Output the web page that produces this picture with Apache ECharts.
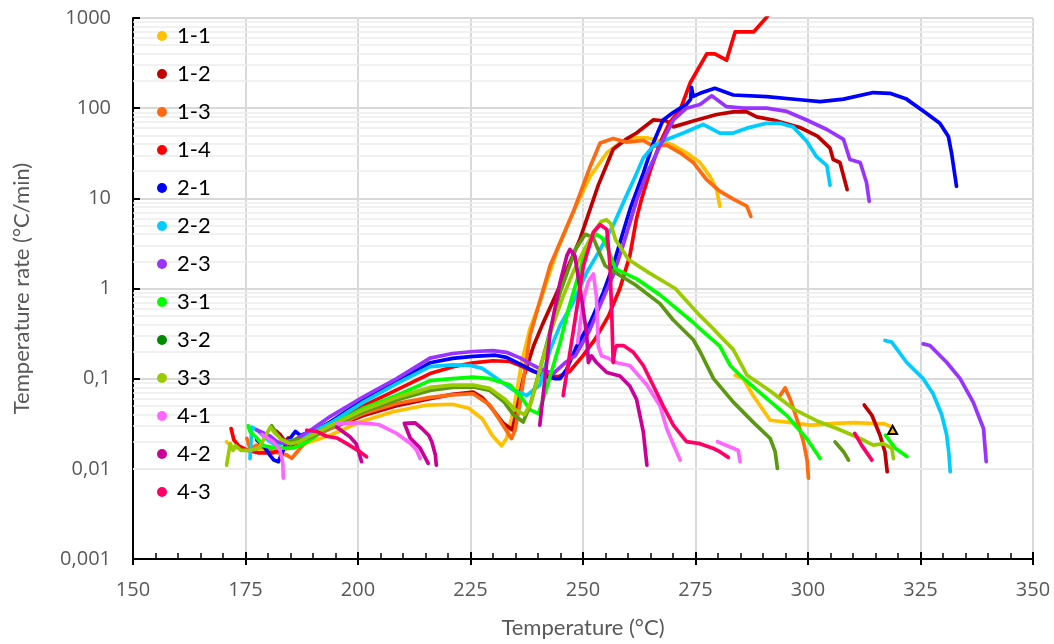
<!DOCTYPE html>
<html><head><meta charset="utf-8">
<script src="https://cdn.jsdelivr.net/npm/echarts@6/dist/echarts.min.js"></script>
<style>html,body{margin:0;padding:0;background:#fff}#c{width:1054px;height:644px}</style>
</head><body><div id="c"></div>
<script>
// ---- data (temperature °C, rate °C/min); each series = list of segments ----
const seriesNames = ['1-1','1-2','1-3','1-4','2-1','2-2','2-3','3-1','3-2','3-3','4-1','4-2','4-3'];
const lineColors  = ['#FFC000','#C00000','#FF6A10','#FF0000','#0000FF','#00CCFF','#9933FF','#00FF00','#5B9A10','#99CC00','#FF66FF','#CC0099','#FF0066'];
const legendColors= ['#FFC000','#C00000','#FF6A10','#FF0000','#0000FF','#00CCFF','#9933FF','#00FF00','#008A00','#99CC00','#FF66FF','#CC0099','#FF0066'];
const xTicks = [150,175,200,225,250,275,300,325,350];
const yTicks = [0.001,0.01,0.1,1,10,100,1000];

const s1_1 = [
 [[170.8,0.020],[171.9,0.0176],[173.8,0.0168],[176.7,0.0161],[180.4,0.0156],[184,0.0165],[187.1,0.0183],[193.8,0.0236],[200.4,0.033],[207.8,0.043],[215.3,0.051],[221,0.052],[224.6,0.047],[227.6,0.036],[229.8,0.0236],[231.9,0.018],[233,0.0217],[234.5,0.043],[236.4,0.153],[238.2,0.356],[240.4,0.7],[244.2,2.6],[247.8,7.0],[251.6,17.5],[255.3,32],[258.2,41],[261.1,47],[264.2,47],[267.1,43],[270,39],[273,32],[276,25],[278.2,17.5],[279.7,12.5],[280.4,8.2]],
 [[283.8,0.109],[285.6,0.1],[287.8,0.065],[291.6,0.0346],[295.3,0.033],[300.4,0.0305],[302.7,0.031],[306,0.032],[310.3,0.0326],[314,0.032],[317,0.0315],[318.5,0.0293]]
];
const s1_1Marker = [318.8, 0.027];
const s1_2 = [
 [[181.2,0.027],[181.9,0.026],[182.7,0.024],[183.8,0.020],[184.5,0.022],[185.3,0.020],[187.5,0.021],[190,0.023],[193.8,0.028],[201.2,0.039],[208.6,0.050],[216,0.060],[221,0.067],[225.6,0.071],[227.5,0.062],[229.3,0.05],[232.3,0.032],[234.3,0.027],[235.2,0.043],[236.7,0.1],[239,0.23],[241,0.4],[244.2,0.9],[249.3,3.5],[253.4,14],[256.7,35],[259.5,45],[261.9,53],[265.6,74],[268.6,72],[270.1,62],[274.5,72],[279.7,85],[283.4,91],[286.4,91],[288.6,80],[292.3,74],[298.2,61],[302.1,49],[304.9,36],[305.6,27],[307.1,25],[308.7,12.5]],
 [[312.5,0.051],[314.2,0.0393],[316,0.0236],[317.1,0.0155],[317.6,0.0093]]
];
const s1_3 = [
 [[175.3,0.0217],[176.0,0.0168],[177.5,0.0183],[180.4,0.016],[184.2,0.0142],[185.3,0.0131],[187.1,0.0168],[189.3,0.0217],[193.8,0.028],[201.2,0.041],[208.6,0.053],[216,0.062],[221,0.066],[225.6,0.068],[229.3,0.051],[232.3,0.030],[234.1,0.0217],[234.9,0.027],[236,0.053],[238.2,0.3],[242.7,1.8],[247.8,7.0],[251.6,22.6],[253.8,41],[256.7,46],[259.7,42],[263.4,44],[265.6,38],[268.6,39],[271.6,32],[274.5,25],[277.5,16],[280.4,12],[283.4,9.8],[286.4,8.2],[287.3,6.3]],
 [[293.8,0.065],[294.9,0.079],[296,0.06],[297.5,0.036],[299,0.0199],[299.8,0.0125],[300.1,0.0079]]
];
const s1_4 = [
 [[171.8,0.028],[172.4,0.021],[173.5,0.018],[175.5,0.016],[178,0.015],[181,0.015],[184,0.017],[187,0.02],[190,0.024],[193.8,0.029],[201.2,0.050],[208.6,0.075],[216,0.114],[221,0.135],[225.6,0.15],[230,0.158],[233.8,0.155],[236,0.14],[239,0.12],[242,0.11],[244.5,0.105],[247,0.12],[250,0.18],[252.8,0.28],[255.7,0.5],[258.2,1.0],[260.4,2.3],[261.9,6],[263,9.8],[264.9,20],[267.1,41],[269.3,70],[271.6,96],[273.8,190],[277.5,400],[279.3,400],[281.9,340],[283.8,700],[287.9,700],[290.9,1030],[291.5,1200]]
];
const s2_1 = [
 [[177.5,0.021],[179,0.018],[180.5,0.014],[181.3,0.0125],[182.3,0.012],[184,0.019],[186.1,0.026],[187.1,0.0236],[190,0.026],[193.8,0.033],[201.2,0.058],[208.6,0.092],[216,0.15],[221,0.168],[225.6,0.177],[230.5,0.182],[233,0.172],[236,0.145],[238.5,0.125],[241,0.108],[243.8,0.1],[244.9,0.1],[246.4,0.128],[248.6,0.23],[251.6,0.42],[254.5,0.9],[256.7,1.8],[258.9,4.2],[260.6,8],[263.4,19],[265.6,41],[267.8,74],[270.1,90],[273,110],[273.9,125],[274.1,170],[274.5,135],[276,146],[279.3,166],[283.4,140],[290.8,134],[298.2,124],[302.7,118],[307.9,126],[314.5,149],[318.2,146],[321.9,126],[326.3,88],[329.3,68],[331.2,48.5],[331.9,31.8],[333,13.6]]
];
const s2_2 = [
 [[176,0.013],[176.4,0.029],[177.5,0.027],[179,0.023],[180.5,0.02],[182,0.018],[184,0.02],[186,0.021],[190,0.026],[193.8,0.032],[201.2,0.055],[208.6,0.088],[216,0.136],[221,0.142],[225,0.14],[227.6,0.13],[229.5,0.112],[232.2,0.09],[234.5,0.075],[237.5,0.065],[240.4,0.085],[242.7,0.21],[244.9,0.39],[247.8,0.7],[250.8,1.5],[253.8,2.7],[256.7,5],[259.3,9.8],[261.5,17],[263.4,28],[265.6,38],[268.6,45],[272.3,53],[276.7,66],[280.4,53],[283.4,53],[286.4,60],[290.8,68],[293.8,68],[296.7,62],[299.7,43],[301.9,29],[304.2,23],[304.9,14]],
 [[317.1,0.265],[318.6,0.254],[321.9,0.152],[325.6,0.1],[327.8,0.068],[329.7,0.04],[330.8,0.024],[331.3,0.015],[331.6,0.0093]]
];
const s2_3 = [
 [[177.5,0.027],[179,0.025],[180.5,0.023],[182,0.02],[184,0.019],[186,0.021],[190,0.028],[193.8,0.038],[201.2,0.063],[208.6,0.1],[216,0.169],[221,0.19],[225.6,0.2],[230,0.205],[233,0.196],[236,0.17],[239,0.14],[241.5,0.122],[243.5,0.115],[246,0.15],[248.3,0.18],[251.3,0.33],[253.8,0.65],[256.7,1.4],[258.9,3],[262,9.8],[264,18],[267.1,38],[270.1,74],[273,100],[276,110],[278.6,137],[281.9,104],[285.6,100],[290.8,100],[295.3,92],[299.7,74],[304.2,58],[307.9,45],[309.3,27],[311.6,25],[313,15],[313.6,9.3]],
 [[325.6,0.243],[327.1,0.233],[330.8,0.152],[333.8,0.1],[336.7,0.055],[339,0.028],[339.6,0.012]]
];
const s3_1 = [
 [[175.6,0.03],[176,0.026],[177.5,0.022],[179,0.018],[182,0.017],[185.6,0.017],[188,0.019],[190,0.022],[193.8,0.03],[201.2,0.047],[208.6,0.065],[216,0.095],[221,0.1],[225.6,0.104],[229.3,0.1],[233.8,0.085],[236.5,0.06],[238.3,0.045],[240.1,0.041],[241.2,0.06],[243,0.12],[244.9,0.25],[246.8,0.6],[248.6,1.2],[250.5,2.5],[252,3.6],[253,4.0],[254.3,3.6],[255.5,2.8],[257.2,1.65],[262,1.27],[267.1,0.85],[274.5,0.42],[276,0.356],[280.4,0.23],[282.7,0.14],[284.9,0.109],[290.1,0.065],[295.3,0.039],[299.7,0.0217],[302.7,0.013]],
 [[317.2,0.0236],[319.4,0.0169],[322,0.0137]]
];
const s3_2 = [
 [[180.8,0.03],[181.8,0.025],[183,0.021],[184.5,0.02],[186,0.021],[188,0.021],[190,0.023],[193.8,0.029],[201.2,0.043],[208.6,0.058],[216,0.074],[221,0.08],[225.6,0.081],[229.3,0.074],[232.5,0.055],[234.5,0.04],[236.7,0.033],[238.2,0.05],[241.6,0.21],[244.9,0.9],[248.3,2.7],[250.5,4.0],[252.2,3.7],[254.9,1.8],[257.2,1.5],[261.6,1.1],[267.1,0.68],[270,0.45],[274.5,0.27],[276,0.2],[279,0.1],[283.4,0.055],[287.8,0.033],[291.6,0.0217],[292.7,0.0155],[293.2,0.0101]],
 [[306,0.0199],[307.9,0.0155],[309,0.0125]]
];
const s3_3 = [
 [[170.8,0.011],[171.6,0.019],[172.2,0.016],[172.8,0.018],[174,0.016],[176,0.016],[178,0.017],[180.5,0.029],[181.5,0.025],[183,0.021],[185,0.019],[187,0.02],[190,0.024],[193.8,0.03],[201.2,0.045],[208.6,0.062],[216,0.08],[221,0.085],[225.6,0.085],[229.3,0.078],[232.5,0.06],[235,0.045],[237,0.04],[238.5,0.055],[240.5,0.13],[243,0.35],[245.5,0.8],[248,1.6],[250.5,2.8],[252.5,4.3],[254,5.5],[255.2,5.8],[256.2,5.2],[257.2,3.5],[260.1,2.1],[264.6,1.5],[270.5,1.0],[276,0.5],[279,0.356],[280.4,0.3],[283.4,0.21],[286.4,0.11],[291.6,0.073],[296.8,0.046],[302,0.034],[306.4,0.028],[311.6,0.0217],[314.5,0.0183],[316.7,0.019],[318.6,0.017],[319,0.013]]
];
const s4_1 = [
 [[178.7,0.024],[181.1,0.02],[182.7,0.016],[183.3,0.0115],[183.4,0.0079]],
 [[195.3,0.0315],[200.1,0.0325],[204.6,0.031],[208.6,0.0247],[211.6,0.0192],[213,0.0162],[213.8,0.013]],
 [[248.8,0.25],[250.1,0.76],[251.2,1.2],[252.3,1.45],[253,0.8],[253.4,0.23],[254.1,0.18],[255.5,0.17],[257.5,0.15],[260.4,0.14],[264.2,0.085],[267.1,0.05],[268.6,0.028],[270.1,0.0185],[271.6,0.0125]],
 [[279.9,0.02],[283.4,0.0169],[284.5,0.016],[284.9,0.012]]
];
const s4_2 = [
 [[195.3,0.029],[198.2,0.0227],[199.6,0.019],[200.8,0.012]],
 [[215.6,0.0115],[213.8,0.017],[211.6,0.022],[210.3,0.032],[212.7,0.0324],[214.2,0.028],[215.7,0.0236],[216.4,0.02],[217.2,0.0142],[217.4,0.011]],
 [[240.4,0.0305],[242.7,0.327],[244.9,1.17],[246.4,2.3],[247.1,2.72],[248.2,2.3],[249.7,0.76],[250.8,0.32],[251.2,0.151],[251.9,0.179],[253,0.151],[255.3,0.117],[258.2,0.107],[260.4,0.083],[261.9,0.059],[263.4,0.0257],[264.2,0.011]]
];
const s4_3 = [
 [[188.6,0.0268],[190.8,0.026],[193,0.023],[195.3,0.022],[197.5,0.019],[200.4,0.0155],[201.9,0.0136]],
 [[245.6,0.065],[247.8,0.327],[250.1,1.79],[252.3,4.2],[253.8,5.1],[255.3,4.5],[256,1.79],[256.4,0.5],[256.7,0.151],[257.1,0.212],[257.5,0.233],[259,0.233],[261.2,0.196],[263.4,0.14],[265.6,0.084],[267.8,0.05],[270.1,0.0304],[273,0.02],[276,0.019],[279,0.0168],[280.4,0.0155],[282.3,0.0134]],
 [[310.4,0.0247],[311.9,0.0183],[314.2,0.0125]]
];
const allSeries = [s1_1,s1_2,s1_3,s1_4,s2_1,s2_2,s2_3,s3_1,s3_2,s3_3,s4_1,s4_2,s4_3];

// ---- build ----
function joinSegments(segs){
  const out = [];
  segs.forEach((seg,i)=>{ if(i>0) out.push(['-','-']); seg.forEach(p=>out.push(p)); });
  return out;
}
const minorGrid = [];
for (let e=-3; e<3; e++) for (let m=2; m<=9; m++) minorGrid.push({yAxis: +(m*Math.pow(10,e)).toPrecision(3)});

const FONT = 'Lato';
const NUMFONT = 'Open Sans';
const series = [{
  name: '_grid', type: 'line', data: [], z: 1, silent: true,
  markLine: { silent: true, z: 1, symbol: ['none','none'], label:{show:false},
    lineStyle: {color:'#ececec', width:1.5, type:'solid'}, emphasis:{disabled:true},
    data: minorGrid, animation:false }
}];
allSeries.forEach((segs,i)=>{
  const s = {
    name: seriesNames[i], type: 'line', data: joinSegments(segs),
    showSymbol: false, symbol: 'none', connectNulls: false, z: 2,
    lineStyle: {color: lineColors[i], width: 3.7, cap:'round', join:'round'},
    itemStyle: {color: lineColors[i]},
    emphasis: {disabled: true}, animation: false
  };
  if (i === 0) {
    s.markPoint = { symbol:'triangle', symbolSize:[9,8], silent:true, label:{show:false}, z: 6,
      itemStyle:{color:'#FFC000', borderColor:'#000', borderWidth:2},
      data:[{coord: s1_1Marker}], animation:false };
  }
  series.push(s);
});

const chart = echarts.init(document.getElementById('c'), null, {renderer:'canvas'});
chart.setOption({
  animation: false,
  backgroundColor: '#fff',
  textStyle: {fontFamily: FONT},
  grid: {left:133, right:21, top:18, bottom:83, containLabel:false},
  legend: {
    orient:'vertical', left:152, top:20, itemWidth:20, itemHeight:10, itemGap:16,
    icon:'circle', selectedMode:false, z: 10,
    textStyle:{fontSize:22, color:'#000', fontFamily:FONT},
    data: seriesNames.map((n,i)=>({name:n, itemStyle:{color:legendColors[i]}}))
  },
  xAxis: [{
    type:'value', min:xTicks[0], max:xTicks[xTicks.length-1], interval:xTicks[1]-xTicks[0],
    name:'Temperature (°C)', nameLocation:'middle', nameGap:58,
    nameTextStyle:{fontSize:22, color:'#595959', fontFamily:FONT},
    axisLine:{onZero:false, lineStyle:{color:'#000', width:2}},
    axisTick:{inside:true, length:7, lineStyle:{color:'#000', width:2}},
    minorTick:{show:true, splitNumber:5, length:6, lineStyle:{color:'#000', width:1.5}},
    axisLabel:{fontSize:20, color:'#595959', margin:21, fontFamily:NUMFONT},
    splitLine:{show:true, lineStyle:{color:'#d9d9d9', width:2}}
  },{
    type:'value', min:xTicks[0], max:xTicks[xTicks.length-1], interval:xTicks[1]-xTicks[0],
    position:'bottom', axisLine:{show:false, onZero:false},
    axisTick:{show:true, inside:false, length:6, lineStyle:{color:'#000', width:2}},
    axisLabel:{show:false}, splitLine:{show:false}
  }],
  yAxis: {
    type:'log', logBase:10, min:yTicks[0], max:yTicks[yTicks.length-1],
    name:'Temperature rate (°C/min)', nameLocation:'middle', nameGap:100, nameRotate:90,
    nameTextStyle:{fontSize:22, color:'#595959', fontFamily:FONT},
    axisLine:{show:true, lineStyle:{color:'#000', width:2}},
    axisTick:{show:true, inside:true, length:7, lineStyle:{color:'#000', width:2}},
    axisLabel:{fontSize:20, color:'#595959', margin:22, fontFamily:NUMFONT,
      formatter: v => String(v).replace('.', ',')},
    splitLine:{show:true, lineStyle:{color:'#d9d9d9', width:2}}
  },
  series: series
});
</script></body></html>
